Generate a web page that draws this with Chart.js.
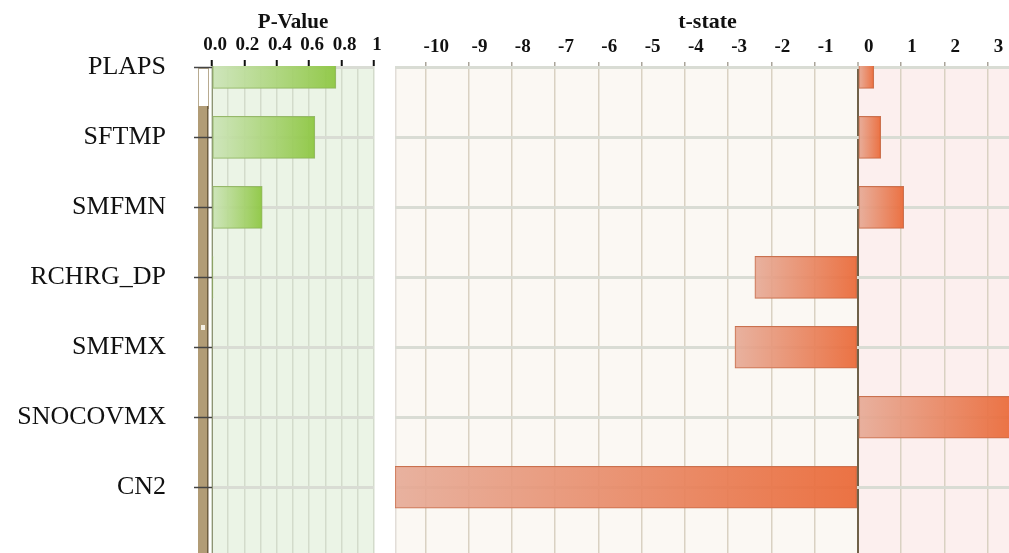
<!DOCTYPE html>
<html>
<head>
<meta charset="utf-8">
<script src="https://cdn.jsdelivr.net/npm/chart.js@4.4.1/dist/chart.umd.min.js"></script>
<style>
  html, body { margin: 0; padding: 0; background: #fff; overflow: hidden; width: 1009px; height: 553px; }
  #pChart { position: absolute; left: 0; top: 0; }
  #tChart { position: absolute; left: 385px; top: 0; }
</style>
</head>
<body>
<canvas id="pChart" width="390" height="553"></canvas>
<canvas id="tChart" width="640" height="553"></canvas>
<script>
// rows, top to bottom
const rowLabels = ["PLAPS", "SFTMP", "SMFMN", "RCHRG_DP", "SMFMX", "SNOCOVMX", "CN2"];
const rowIndex = [0, 1, 2, 3, 4, 5, 6];

// values
const pValues = [0.765, 0.635, 0.31, 0.006, 0, 0, 0];
const tValues = [0.37, 0.53, 1.06, -2.38, -2.84, 3.6, -10.7];

// tick labels
const pTickValues = [0, 0.1, 0.2, 0.3, 0.4, 0.5, 0.6, 0.7, 0.8, 0.9, 1.0];
const pTickLabels = ["0.0", "", "0.2", "", "0.4", "", "0.6", "", "0.8", "", "1"];
const tTickValues = [-10, -9, -8, -7, -6, -5, -4, -3, -2, -1, 0, 1, 2, 3];

const serif = "'Liberation Serif', 'Times New Roman', serif";

function barGradient(ctx, light, dark, fallback) {
  const chart = ctx.chart;
  if (!chart.chartArea) return fallback;
  const xs = chart.scales.x;
  const v = ctx.raw ? ctx.raw.x : 0;
  const a = xs.getPixelForValue(0), b = xs.getPixelForValue(v);
  const l = Math.min(a, b), r = Math.max(a, b);
  if (r - l < 1) return dark;
  const g = chart.ctx.createLinearGradient(l, 0, r, 0);
  g.addColorStop(0, light);
  g.addColorStop(1, dark);
  return g;
}

function yScale(showLabels) {
  return {
    type: "linear",
    reverse: true,
    offset: false,
    min: -0.02,
    max: 6.94,
    afterBuildTicks: s => { s.ticks = rowIndex.map(v => ({ value: v })); },
    afterFit: s => {
      s.width = showLabels ? 212 : 10;
      s.paddingTop = 0;
      s.paddingBottom = 0;
    },
    ticks: {
      display: showLabels,
      padding: 28,
      color: "#111",
      font: { family: serif, size: 26 },
      callback: v => rowLabels[v]
    },
    grid: {
      offset: false,
      color: "#d9dcd4",
      lineWidth: 3,
      drawTicks: showLabels,
      tickLength: 18,
      tickWidth: 1.5,
      tickColor: "#444"
    },
    border: { display: showLabels, color: "#8e9474", width: 1 }
  };
}

// left panel backgrounds + brown side bar
const pBackground = {
  id: "pBackground",
  beforeDraw(chart) {
    const { ctx, chartArea: a } = chart;
    ctx.save();
    ctx.fillStyle = "#ebf4e6";
    ctx.fillRect(a.left, a.top, a.right - a.left, chart.height - a.top);
    ctx.strokeStyle = "#b8ab90";
    ctx.lineWidth = 1;
    ctx.strokeRect(198.5, a.top + 2.5, 10, 40);
    ctx.fillStyle = "#b19c76";
    ctx.fillRect(198, 106, 10, chart.height - 106);
    ctx.fillStyle = "#6e5e40";
    ctx.fillRect(207, 106, 1.5, chart.height - 106);
    ctx.fillStyle = "#f4efe4";
    ctx.fillRect(201, 325, 4, 5);
    ctx.restore();
  }
};

// right panel backgrounds split at zero
const tBackground = {
  id: "tBackground",
  beforeDraw(chart) {
    const { ctx, chartArea: a } = chart;
    const z = chart.scales.x.getPixelForValue(0);
    ctx.save();
    ctx.fillStyle = "#fbf8f3";
    ctx.fillRect(a.left, a.top, z - a.left, a.bottom - a.top);
    ctx.fillStyle = "#fcefee";
    ctx.fillRect(z, a.top, a.right - z, a.bottom - a.top);
    ctx.fillStyle = "#e2ddd8";
    ctx.fillRect(a.left, a.top, 1.5, a.bottom - a.top);
    ctx.restore();
  }
};

new Chart(document.getElementById("pChart"), {
  type: "bar",
  data: {
    datasets: [{
      label: "P-Value",
      data: pValues.map((v, i) => ({ x: v, y: rowIndex[i] })),
      backgroundColor: ctx => barGradient(ctx, "rgba(204,228,184,0.9)", "rgba(140,198,63,0.93)", "#a8d36f"),
      borderColor: "#96b86a",
      borderWidth: 1,
      borderSkipped: false,
      barThickness: 42
    }]
  },
  options: {
    indexAxis: "y",
    responsive: false,
    animation: false,
    layout: { padding: { left: 0, right: 16, top: 0, bottom: 0 } },
    plugins: { legend: { display: false }, tooltip: { enabled: false } },
    scales: {
      x: {
        type: "linear",
        position: "top",
        min: 0,
        max: 1,
        afterBuildTicks: s => { s.ticks = pTickValues.map(v => ({ value: v })); },
        afterFit: s => { s.height = 66; },
        title: {
          display: true,
          text: "P-Value",
          color: "#111",
          font: { family: serif, size: 21, weight: "bold" },
          padding: { top: 10, bottom: 0 }
        },
        ticks: {
          color: "#111",
          padding: 4,
          labelOffset: 3,
          maxRotation: 0,
          autoSkip: false,
          font: { family: serif, size: 19, weight: "bold" },
          callback: (v, i) => pTickLabels[i]
        },
        grid: {
          color: "#d3dbcb",
          lineWidth: 1.5,
          tickLength: 6,
          tickWidth: 2,
          tickColor: c => (c.index % 2 === 0 ? "#111" : "rgba(0,0,0,0)")
        },
        border: { display: false }
      },
      y: yScale(true)
    }
  },
  plugins: [pBackground]
});

new Chart(document.getElementById("tChart"), {
  type: "bar",
  data: {
    datasets: [{
      label: "t-state",
      data: tValues.map((v, i) => ({ x: v, y: rowIndex[i] })),
      backgroundColor: ctx => barGradient(ctx, "rgba(230,170,150,0.9)", "rgba(234,104,54,0.93)", "#e98a68"),
      borderColor: "#c9714f",
      borderWidth: 1,
      borderSkipped: false,
      barThickness: 42
    }]
  },
  options: {
    indexAxis: "y",
    responsive: false,
    animation: false,
    layout: { padding: { left: 0, right: 5, top: 0, bottom: 0 } },
    plugins: { legend: { display: false }, tooltip: { enabled: false } },
    scales: {
      x: {
        type: "linear",
        position: "top",
        min: -10.7,
        max: 3.75,
        afterBuildTicks: s => { s.ticks = tTickValues.map(v => ({ value: v })); },
        afterFit: s => { s.height = 66; },
        title: {
          display: true,
          text: "t-state",
          color: "#111",
          font: { family: serif, size: 22, weight: "bold" },
          padding: { top: 9, bottom: 0 }
        },
        ticks: {
          color: "#111",
          padding: 4,
          labelOffset: 11,
          maxRotation: 0,
          autoSkip: false,
          font: { family: serif, size: 19, weight: "bold" },
          callback: v => String(v)
        },
        grid: {
          color: c => (c.tick && c.tick.value === 0 ? "#6f6148" : "#d9d1c2"),
          lineWidth: c => (c.tick && c.tick.value === 0 ? 2 : 1.5),
          tickLength: 4,
          tickWidth: 1.5,
          tickColor: "#aaa49a"
        },
        border: { display: false }
      },
      y: yScale(false)
    }
  },
  plugins: [tBackground]
});
</script>
</body>
</html>
